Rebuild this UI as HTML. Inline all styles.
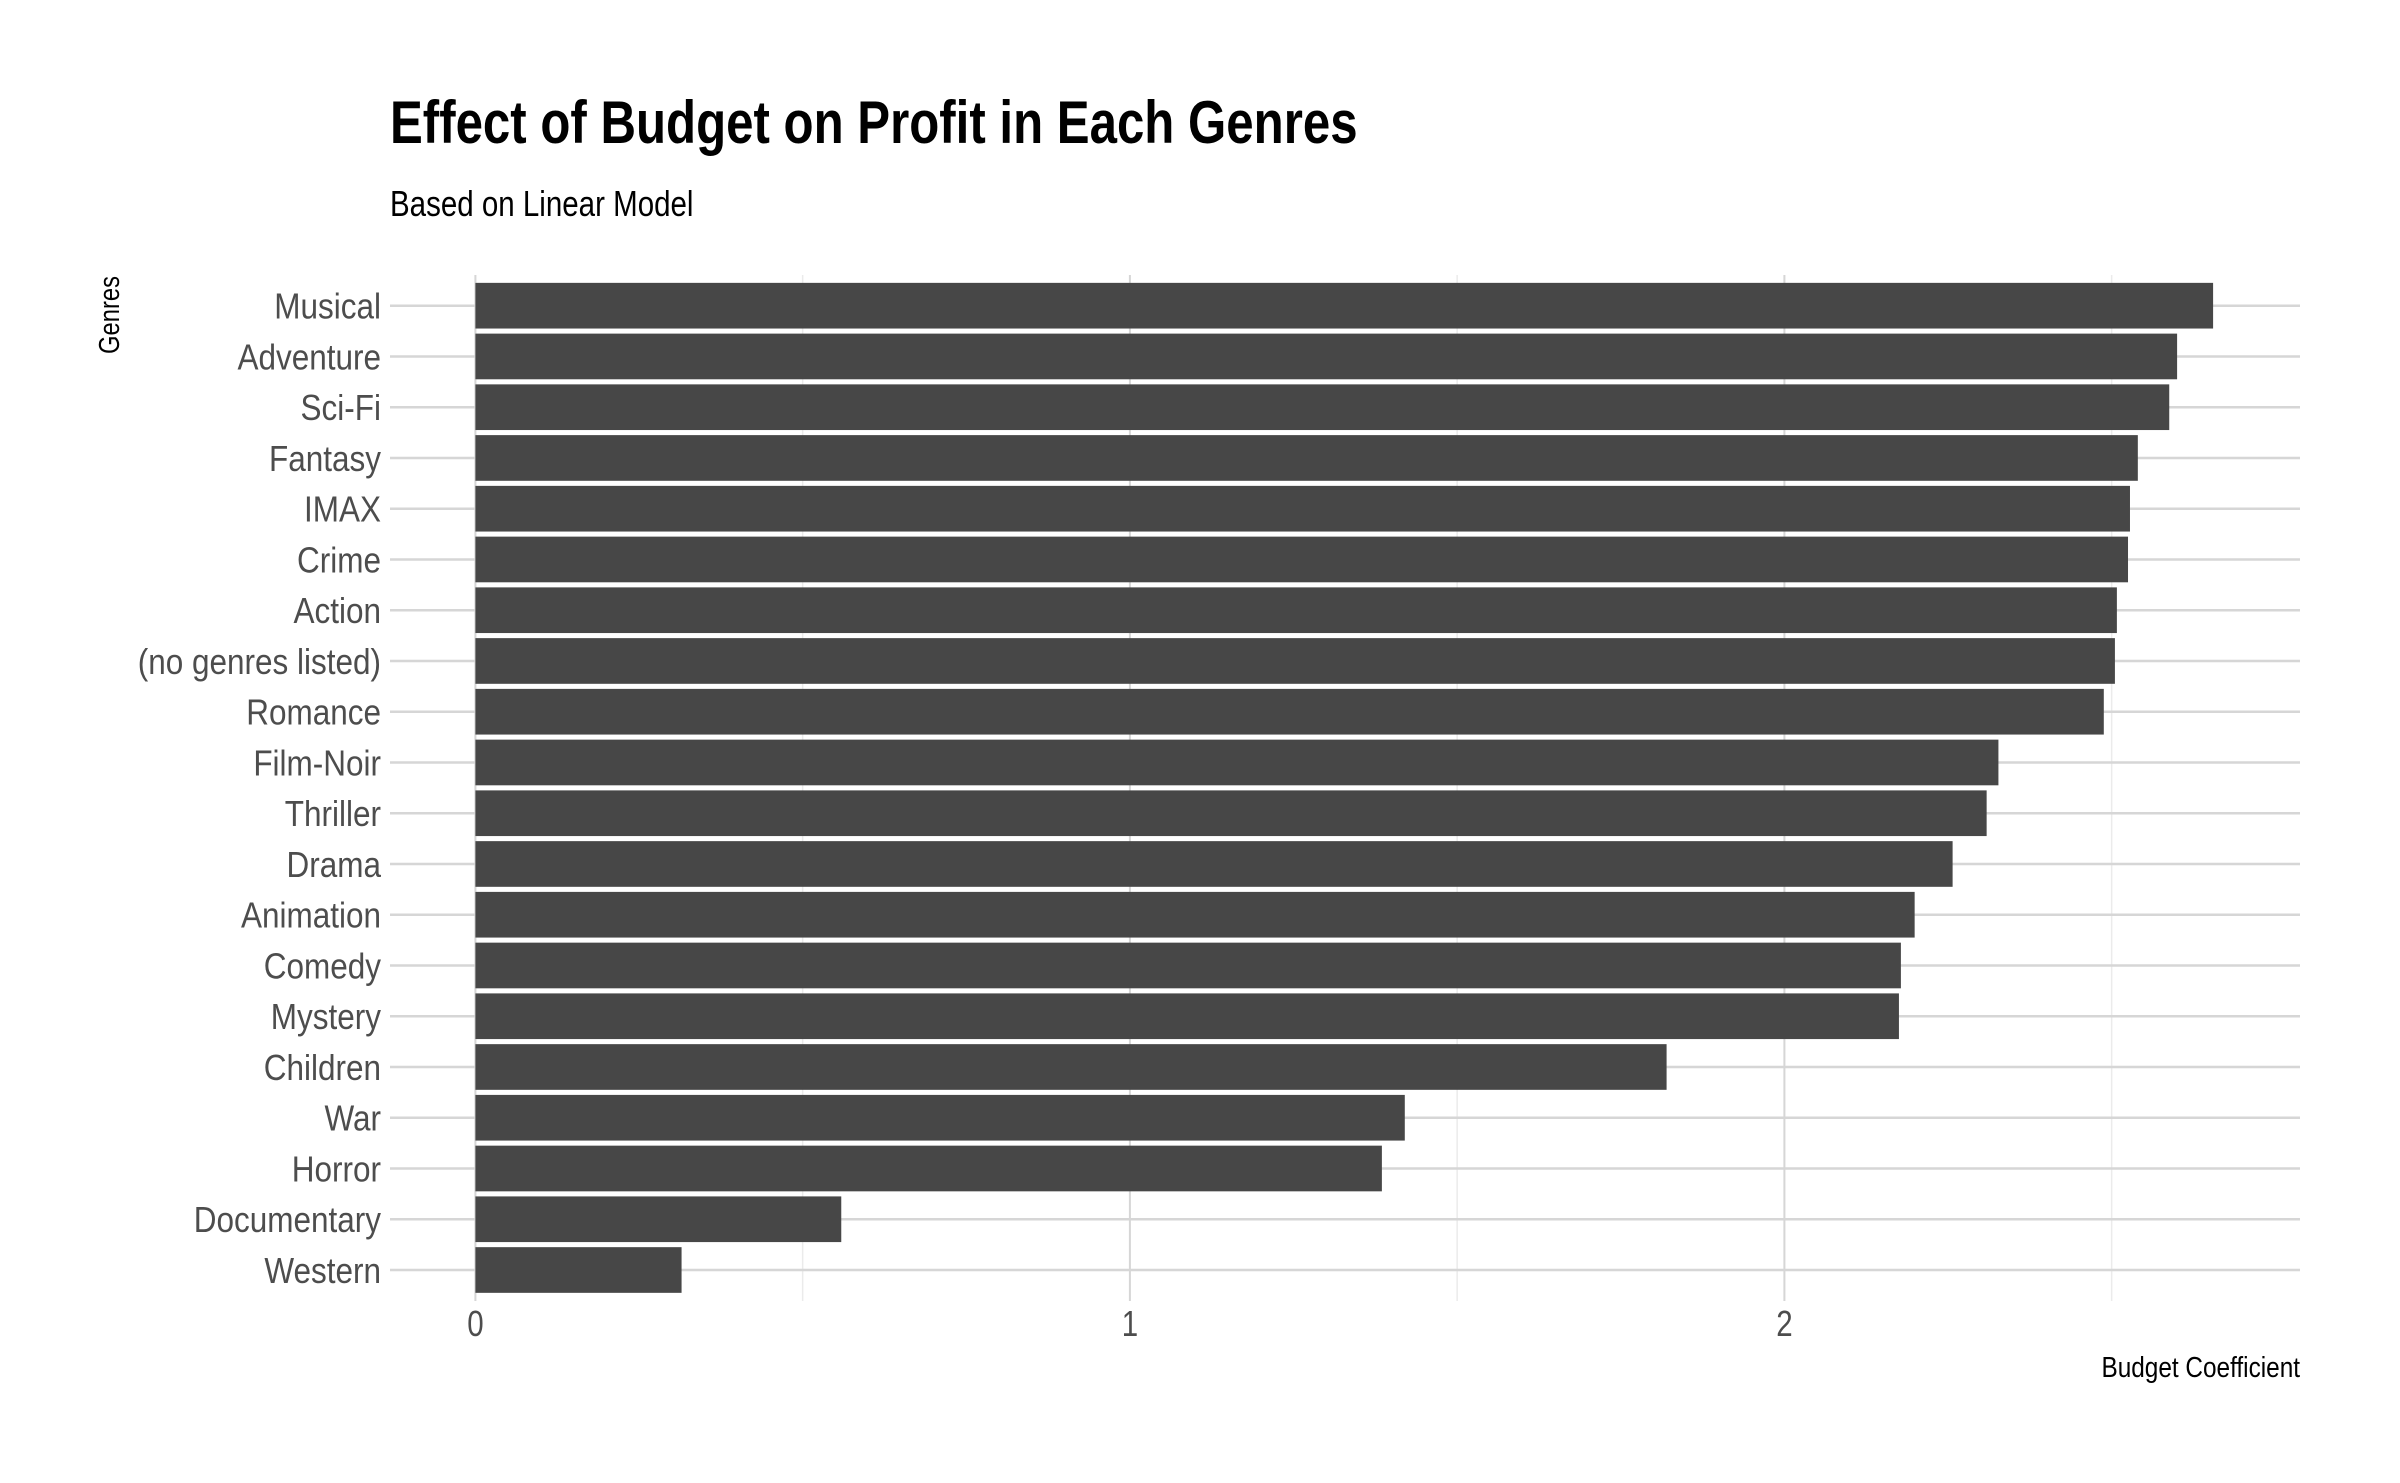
<!DOCTYPE html>
<html><head><meta charset="utf-8"><style>
html,body{margin:0;padding:0;background:#fff;}
svg{display:block;}
text{font-family:"Liberation Sans",sans-serif;}
</style></head><body>
<svg id="chart" width="2400" height="1483" viewBox="0 0 2400 1483" xmlns="http://www.w3.org/2000/svg">
<rect width="2400" height="1483" fill="#fff"/>
<g transform="translate(390,143) scale(0.82,1)"><text x="0" y="0" font-size="60" font-weight="bold" fill="#000">Effect of Budget on Profit in Each Genres</text></g>
<g transform="translate(390,216) scale(0.82,1)"><text x="0" y="0" font-size="36" fill="#000">Based on Linear Model</text></g>
<g id="grid"></g>
<g id="bars"></g>
<g id="yticks"></g>
<g id="xticks"></g>
<g transform="translate(119,315) rotate(-90) scale(0.82,1)"><text x="0" y="0" font-size="29" text-anchor="middle" fill="#000">Genres</text></g>
<g transform="translate(2300,1377) scale(0.84,1)"><text x="0" y="0" font-size="29" text-anchor="end" fill="#000">Budget Coefficient</text></g>
</svg>
<script>
const categories = ["Musical","Adventure","Sci-Fi","Fantasy","IMAX","Crime","Action","(no genres listed)","Romance","Film-Noir","Thriller","Drama","Animation","Comedy","Mystery","Children","War","Horror","Documentary","Western"];
const values = [2.655,2.600,2.588,2.540,2.528,2.525,2.508,2.505,2.488,2.327,2.309,2.257,2.199,2.178,2.175,1.820,1.420,1.385,0.559,0.315];
const xTicks = [0,1,2];
const xTickLabels = ["0","1","2"];
const xMinor = [0.5,1.5,2.5];

const NS="http://www.w3.org/2000/svg";
const X0=475.4, PXU=654.5;
const xs=v=>X0+v*PXU;
const Y_TOP=305.7, STEP=(1270-305.7)/19;
const ys=i=>Y_TOP+i*STEP;
const GL=390, GR=2300, GT=275, GB=1301;
function mk(tag,attrs,parent){const e=document.createElementNS(NS,tag);for(const k in attrs)e.setAttribute(k,attrs[k]);parent.appendChild(e);return e;}
const grid=document.getElementById('grid');
xMinor.forEach(v=>{
  const l=mk('line',{x1:xs(v),x2:xs(v),y1:GT,y2:GB,stroke:'#ebebeb','stroke-width':1.5},grid);
  
  
});
xTicks.forEach(v=>{
  const l=mk('line',{x1:xs(v),x2:xs(v),y1:GT,y2:GB,stroke:'#d6d6d6','stroke-width':2},grid);
  
  
});
categories.forEach((c,i)=>{
  const l=mk('line',{x1:GL,x2:GR,y1:ys(i),y2:ys(i),stroke:'#d6d6d6','stroke-width':2.5},grid);
  
  
});
const bars=document.getElementById('bars');
const BH=STEP*0.9;
values.forEach((v,i)=>{
  const r=mk('rect',{x:xs(0),y:ys(i)-BH/2,width:xs(v)-xs(0),height:BH,fill:'#474747'},bars);
  
  
});
const yt=document.getElementById('yticks');
categories.forEach((c,i)=>{
  const g=mk('g',{transform:`translate(381,${ys(i)+13}) scale(0.875,1)`},yt);
  
  
  const t=mk('text',{x:0,y:0,'font-size':36,'text-anchor':'end',fill:'#4d4d4d'},g);
  t.textContent=c;
});
const xt=document.getElementById('xticks');
xTicks.forEach((v,i)=>{
  const g=mk('g',{transform:`translate(${xs(v)},1336) scale(0.82,1)`},xt);
  
  
  const t=mk('text',{x:0,y:0,'font-size':36,'text-anchor':'middle',fill:'#4d4d4d'},g);
  t.textContent=xTickLabels[i];
});
</script>
</body></html>
